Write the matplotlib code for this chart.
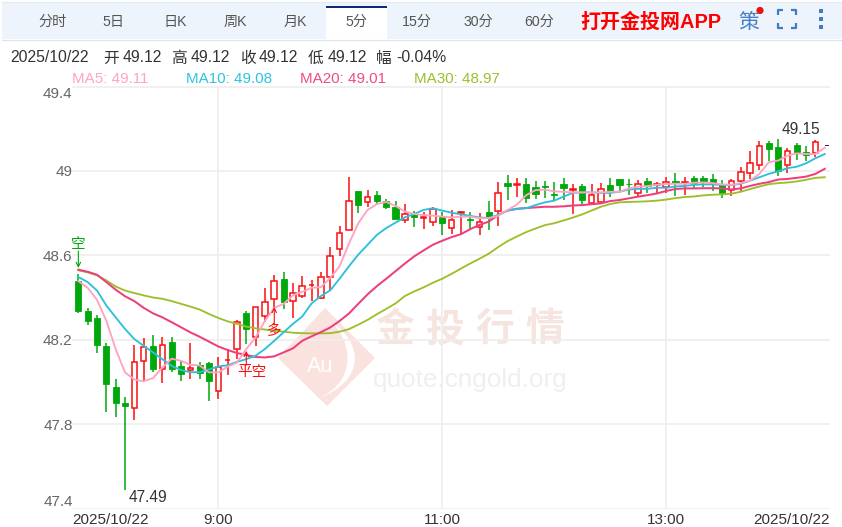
import matplotlib
matplotlib.use('Agg')
import matplotlib.pyplot as plt
import numpy as np
from matplotlib.patches import Rectangle, Polygon, PathPatch, Circle
from matplotlib.path import Path

plt.rcParams['font.family'] = ['Liberation Sans', 'Noto Sans CJK SC', 'DejaVu Sans']

W, H = 842, 527

# top/bottom of each candle body, wicks, and direction (1 red, 0 green)
body_top = [48.48, 48.338, 48.303, 48.171, 47.976, 47.90, 48.094, 48.167, 48.171, 48.175,
            48.19, 48.076, 48.065, 48.08, 48.089, 48.072, 48.106, 48.286, 48.327, 48.356,
            48.379, 48.479, 48.486, 48.422, 48.454, 48.46, 48.496, 48.595, 48.708, 48.859,
            48.907, 48.878, 48.884, 48.856, 48.827, 48.794, 48.796, 48.78, 48.821, 48.78,
            48.766, 48.805, 48.772, 48.76, 48.804, 48.896, 48.945, 48.937, 48.94, 48.922,
            48.929, 48.89, 48.939, 48.915, 48.928, 48.884, 48.914, 48.933, 48.962, 48.94,
            48.936, 48.95, 48.936, 48.947, 48.954, 48.948, 48.967, 48.967, 48.961, 48.933,
            48.953, 48.995, 49.036, 49.118, 49.133, 49.111, 49.093, 49.124, 49.091, 49.137,
            49.12]
body_bot = [48.335, 48.287, 48.173, 47.989, 47.90, 47.887, 47.878, 48.097, 48.059, 48.062,
            48.059, 48.037, 48.056, 48.043, 48.002, 47.956, 48.103, 48.156, 48.251, 48.214,
            48.313, 48.394, 48.381, 48.383, 48.407, 48.457, 48.40, 48.498, 48.63, 48.718,
            48.84, 48.854, 48.859, 48.83, 48.774, 48.766, 48.783, 48.777, 48.76, 48.752,
            48.73, 48.802, 48.769, 48.736, 48.779, 48.812, 48.929, 48.931, 48.87, 48.889,
            48.925, 48.885, 48.917, 48.91, 48.862, 48.846, 48.851, 48.901, 48.934, 48.936,
            48.893, 48.928, 48.931, 48.926, 48.942, 48.943, 48.945, 48.954, 48.945, 48.892,
            48.911, 48.951, 48.989, 49.028, 49.104, 48.998, 49.03, 49.091, 49.077, 49.085,
            49.12]
high = [48.51, 48.35, 48.319, 48.183, 48.014, 47.929, 48.176, 48.208, 48.224, 48.214,
        48.214, 48.097, 48.186, 48.092, 48.092, 48.119, 48.156, 48.294, 48.338, 48.356,
        48.446, 48.508, 48.519, 48.468, 48.501, 48.482, 48.52, 48.639, 48.74, 48.969,
        48.907, 48.909, 48.903, 48.868, 48.856, 48.843, 48.812, 48.807, 48.827, 48.807,
        48.815, 48.809, 48.805, 48.799, 48.859, 48.948, 48.98, 48.964, 48.964, 48.953,
        48.953, 48.948, 48.967, 48.94, 48.94, 48.94, 48.945, 48.967, 48.962, 48.961,
        48.959, 48.964, 48.948, 48.97, 48.989, 48.97, 48.976, 48.976, 48.983, 48.959,
        48.961, 49.017, 49.096, 49.14, 49.14, 49.15, 49.108, 49.133, 49.119, 49.145,
        49.12]
low = [48.327, 48.27, 48.135, 47.856, 47.833, 47.49, 47.82, 48.005, 48.049, 47.997,
       48.049, 48.002, 48.014, 48.013, 47.91, 47.918, 48.033, 48.108, 48.18, 48.17,
       48.283, 48.351, 48.346, 48.303, 48.399, 48.382, 48.391, 48.435, 48.595, 48.718,
       48.80, 48.827, 48.837, 48.821, 48.771, 48.752, 48.736, 48.725, 48.741, 48.696,
       48.699, 48.702, 48.725, 48.696, 48.721, 48.74, 48.862, 48.878, 48.849, 48.867,
       48.87, 48.862, 48.862, 48.794, 48.843, 48.838, 48.849, 48.878, 48.906, 48.885,
       48.878, 48.893, 48.89, 48.895, 48.881, 48.884, 48.92, 48.923, 48.907, 48.873,
       48.879, 48.907, 48.962, 49.002, 49.049, 48.978, 48.991, 49.052, 49.049, 49.064,
       49.12]
rising = [0, 0, 0, 0, 0, 0, 1, 1, 0, 1, 0, 0, 1, 0, 0, 1, 1, 1, 0, 1,
          1, 1, 0, 1, 1, 1, 1, 1, 1, 1, 0, 1, 0, 0, 0, 1, 0, 1, 1, 0,
          1, 1, 0, 1, 0, 1, 0, 1, 0, 0, 0, 0, 0, 1, 0, 1, 1, 0, 0, 0,
          1, 0, 1, 1, 0, 1, 0, 0, 0, 0, 1, 1, 1, 1, 0, 0, 1, 0, 0, 1,
          1]

ma5 = [48.478, 48.446, 48.389, 48.29, 48.156, 48.045, 48.011, 48.003, 48.018, 48.068,
       48.11, 48.10, 48.081, 48.078, 48.045, 48.045, 48.072, 48.092, 48.156, 48.211,
       48.29, 48.351, 48.37, 48.41, 48.427, 48.446, 48.449, 48.493, 48.548, 48.655,
       48.752, 48.815, 48.843, 48.853, 48.834, 48.807, 48.796, 48.79, 48.788, 48.783,
       48.78, 48.783, 48.783, 48.776, 48.776, 48.787, 48.815, 48.84, 48.885, 48.909,
       48.911, 48.903, 48.901, 48.898, 48.898, 48.898, 48.898, 48.901, 48.901, 48.917,
       48.925, 48.928, 48.934, 48.938, 48.939, 48.939, 48.944, 48.945, 48.942, 48.936,
       48.934, 48.942, 48.954, 48.986, 49.041, 49.049, 49.072, 49.083, 49.08, 49.08,
       49.11]
ma10 = [48.497, 48.473, 48.433, 48.362, 48.306, 48.251, 48.203, 48.171, 48.14, 48.108,
        48.076, 48.056, 48.046, 48.046, 48.059, 48.073, 48.079, 48.095, 48.108, 48.124,
        48.156, 48.195, 48.235, 48.275, 48.31, 48.372, 48.407, 48.434, 48.489, 48.548,
        48.603, 48.65, 48.697, 48.729, 48.755, 48.78, 48.796, 48.815, 48.823, 48.812,
        48.802, 48.794, 48.787, 48.779, 48.777, 48.791, 48.812, 48.821, 48.823, 48.838,
        48.851, 48.859, 48.878, 48.896, 48.898, 48.898, 48.896, 48.896, 48.901, 48.912,
        48.915, 48.915, 48.92, 48.92, 48.926, 48.929, 48.934, 48.936, 48.936, 48.933,
        48.933, 48.939, 48.954, 48.97, 48.986, 48.998, 49.013, 49.02, 49.036, 49.06,
        49.08]
ma20 = [48.532, 48.522, 48.508, 48.473, 48.437, 48.406, 48.383, 48.351, 48.325, 48.306,
        48.283, 48.259, 48.235, 48.214, 48.191, 48.168, 48.151, 48.137, 48.127, 48.118,
        48.116, 48.121, 48.14, 48.159, 48.195, 48.216, 48.236, 48.258, 48.289, 48.324,
        48.37, 48.415, 48.454, 48.489, 48.525, 48.561, 48.595, 48.623, 48.65, 48.669,
        48.686, 48.70, 48.724, 48.744, 48.76, 48.791, 48.812, 48.82, 48.824, 48.827,
        48.83, 48.83, 48.832, 48.836, 48.838, 48.842, 48.846, 48.857, 48.862, 48.87,
        48.878, 48.885, 48.893, 48.905, 48.914, 48.917, 48.917, 48.918, 48.918, 48.917,
        48.912, 48.917, 48.929, 48.939, 48.947, 48.959, 48.962, 48.967, 48.973, 48.986,
        49.01]
ma30 = [48.529, 48.519, 48.505, 48.481, 48.452, 48.433, 48.421, 48.41, 48.40, 48.394,
        48.383, 48.37, 48.357, 48.343, 48.322, 48.303, 48.287, 48.275, 48.262, 48.254,
        48.248, 48.243, 48.238, 48.233, 48.231, 48.23, 48.23, 48.231, 48.238, 48.25,
        48.271, 48.294, 48.321, 48.346, 48.372, 48.407, 48.429, 48.448, 48.47, 48.489,
        48.512, 48.537, 48.561, 48.584, 48.608, 48.639, 48.667, 48.689, 48.71, 48.727,
        48.743, 48.752, 48.765, 48.779, 48.794, 48.812, 48.83, 48.843, 48.851, 48.853,
        48.854, 48.856, 48.859, 48.864, 48.871, 48.876, 48.879, 48.884, 48.887, 48.889,
        48.892, 48.901, 48.914, 48.926, 48.937, 48.942, 48.945, 48.95, 48.958, 48.967,
        48.97]

y_ticks = [47.4, 47.8, 48.2, 48.6, 49.0, 49.4]
y_labels = ['47.4', '47.8', '48.2', '48.6', '49', '49.4']
x_grid = [15, 39, 63]
x_labels = ['2025/10/22', '9:00', '11:00', '13:00', '2025/10/22']

tabs = ['分时', '5日', '日K', '周K', '月K', '5分', '15分', '30分', '60分']
tab_x = [53, 113, 175, 235, 295, 356, 417, 478, 539]

RED = '#f81010'
GREEN = '#00a80c'
GRID = '#eeeeee'
X0, X1 = -0.68, 80.56

fig = plt.figure(figsize=(W / 100, H / 100), dpi=100, facecolor='white')

# page furniture in pixel coordinates, sitting behind the chart
bg = fig.add_axes([0, 0, 1, 1], zorder=0)
bg.set_xlim(0, W)
bg.set_ylim(H, 0)
bg.axis('off')

bg.add_patch(Rectangle((2, 2), W - 2, 37, fc='#eef4fc', ec='none'))
bg.plot([2, W], [39.5, 39.5], color='#dbe3ee', lw=0.8)
bg.plot([2, W], [2, 2], color='#e3eaf4', lw=0.8)
bg.add_patch(Rectangle((326, 6), 61, 34, fc='white', ec='none'))
bg.add_patch(Rectangle((326, 6), 61, 2, fc='#12287a', ec='none'))
for name, tx in zip(tabs, tab_x):
    bg.text(tx, 22, name, ha='center', va='center', fontsize=10.2, color='#555555')
bg.text(651, 22, '打开金投网APP', ha='center', va='center', fontsize=14.4,
        color='#ff0000', fontweight='bold')
bg.text(749, 22, '策', ha='center', va='center', fontsize=15, color='#4a80c4')
bg.add_patch(Circle((760, 10.5), 3.6, fc='#ee1111', ec='none'))
for seg in [[(778, 15), (778, 10), (783, 10)], [(791, 10), (796, 10), (796, 15)],
            [(778, 23), (778, 28), (783, 28)], [(791, 28), (796, 28), (796, 23)]]:
    sx, sy = zip(*seg)
    bg.plot(sx, sy, color='#3f7cc4', lw=1.6, solid_capstyle='butt')
bg.scatter([821, 821, 821], [11, 19, 27], s=9, marker='s', color='#3f7cc4', lw=0)

head = [(10, '2025/10/22'), (103, '开'), (123, '49.12'), (171, '高'), (191, '49.12'),
        (240, '收'), (259, '49.12'), (308, '低'), (328, '49.12'), (376, '幅'), (396, '-0.04%')]
for hx, s in head:
    bg.text(hx, 58, s, ha='left', va='center', fontsize=11.3, color='#333333')

legend = [(72, 'MA5: 49.11', '#ffa3c2'), (186, 'MA10: 49.08', '#2cc4de'),
          (300, 'MA20: 49.01', '#ee4c86'), (414, 'MA30: 48.97', '#9cc02c')]
for lx, s, c in legend:
    bg.text(lx, 79, s, ha='left', va='center', fontsize=10.9, color=c)

# watermark
bg.add_patch(Polygon([(325, 308), (375, 358), (327, 406), (278, 358)], fc='#fae3df', ec='none'))
swoosh = Path([(333, 323), (364, 345), (364, 380), (320, 398), (352, 382), (356, 350), (333, 323)],
              [Path.MOVETO, Path.CURVE4, Path.CURVE4, Path.CURVE4, Path.CURVE4, Path.CURVE4, Path.CURVE4])
bg.add_patch(PathPatch(swoosh, fc='white', ec='none'))
bg.text(320, 367, 'Au', ha='center', va='center', fontsize=15.5, color='white')
for wx, ch in zip([395, 445, 495, 545], '金投行情'):
    bg.text(wx, 331, ch, ha='center', va='center', fontsize=28, color='#f6e4df', fontweight='bold')
bg.text(470, 380, 'quote.cngold.org', ha='center', va='center', fontsize=18.8, color='#f0efef')

# main chart, x/y scales line up with the picture's grid
ax = fig.add_axes([72 / W, 1 - 508.5 / H, (830 - 72) / W, (508.5 - 86.5) / H], zorder=1)
ax.patch.set_alpha(0)
ax.set_xlim(X0, X1)
ax.set_ylim(47.4, 49.4)
for s in ax.spines.values():
    s.set_visible(False)

ax.set_axisbelow(True)
ax.set_yticks(y_ticks)
ax.set_yticklabels(y_labels, fontsize=11, color='#666666')
ax.set_xticks([X0] + x_grid + [X1])
ax.set_xticklabels(x_labels, fontsize=11, color='#333333')
ax.tick_params(length=0)
ax.tick_params(axis='y', pad=-0.5)
ax.tick_params(axis='x', pad=3)
ax.grid(axis='y', color=GRID, lw=1.2)
for t in x_grid:
    ax.axvline(t, color=GRID, lw=1.2, zorder=0.5)

ticklabs = ax.get_yticklabels()
ticklabs[0].set_va('bottom')
ticklabs[-1].set_va('top')
xlabs = ax.get_xticklabels()
xlabs[0].set_ha('left')
xlabs[-1].set_ha('right')

idx = np.arange(len(body_top))
up = np.array(rising, dtype=bool)
top = np.array(body_top)
bot = np.array(body_bot)
last = len(idx) - 1
up[last] = False

wick_colors = [RED if r else GREEN for r in up]
wick_colors[last] = '#333333'
ax.vlines(idx, low, high, colors=wick_colors, lw=1.1, zorder=2)
ax.bar(idx[up], top[up] - bot[up], bottom=bot[up], width=0.6, facecolor='white',
       edgecolor=RED, lw=1.1, zorder=3)
green = ~up
green[last] = False
ax.bar(idx[green], top[green] - bot[green], bottom=bot[green], width=0.66, facecolor=GREEN,
       edgecolor=GREEN, lw=0.6, zorder=3)
ax.bar([idx[last] + 0.2], [0.004], bottom=[body_bot[last]], width=0.42, color='#333333', lw=0, zorder=3)

ax.plot(idx, ma30, color='#9cc02c', lw=1.35, zorder=4)
ax.plot(idx, ma20, color='#ee3f7c', lw=1.45, zorder=5)
ax.plot(idx, ma10, color='#2cc0dc', lw=1.35, zorder=6)
ax.plot(idx, ma5, color='#ffa3c2', lw=1.35, zorder=7)

# low / high labels follow the extreme candles
i_lo = int(np.argmin(low))
i_hi = int(np.argmax(high))
ax.annotate(f'{low[i_lo]:.2f}', xy=(i_lo, low[i_lo]), xytext=(23, -8), textcoords='offset pixels',
            ha='center', va='center', fontsize=11.2, color='#333333', zorder=9)
ax.annotate(f'{high[i_hi]:.2f}', xy=(i_hi, high[i_hi]), xytext=(23, 10), textcoords='offset pixels',
            ha='center', va='center', fontsize=11.2, color='#333333', zorder=9)

# trade signals: candle index, arrow tip, arrow tail, text, offset
signals = [(0, 48.54, 48.62, '空', GREEN, 0, 7), (18, 48.147, 48.08, '平空', RED, 6, -7),
           (21, 48.355, 48.27, '多', RED, 0, -6)]
for i, tip, tail, s, c, dx, dy in signals:
    ax.annotate('', xy=(i, tip), xytext=(i, tail),
                arrowprops=dict(arrowstyle='->', color=c, lw=0.8, shrinkA=0, shrinkB=0, mutation_scale=8),
                zorder=8)
    ax.annotate(s, xy=(i, tail), xytext=(dx, dy), textcoords='offset pixels', ha='center', va='center',
                fontsize=10.5, color=c, zorder=8, annotation_clip=False)

fig.savefig('out.png', dpi=100)
